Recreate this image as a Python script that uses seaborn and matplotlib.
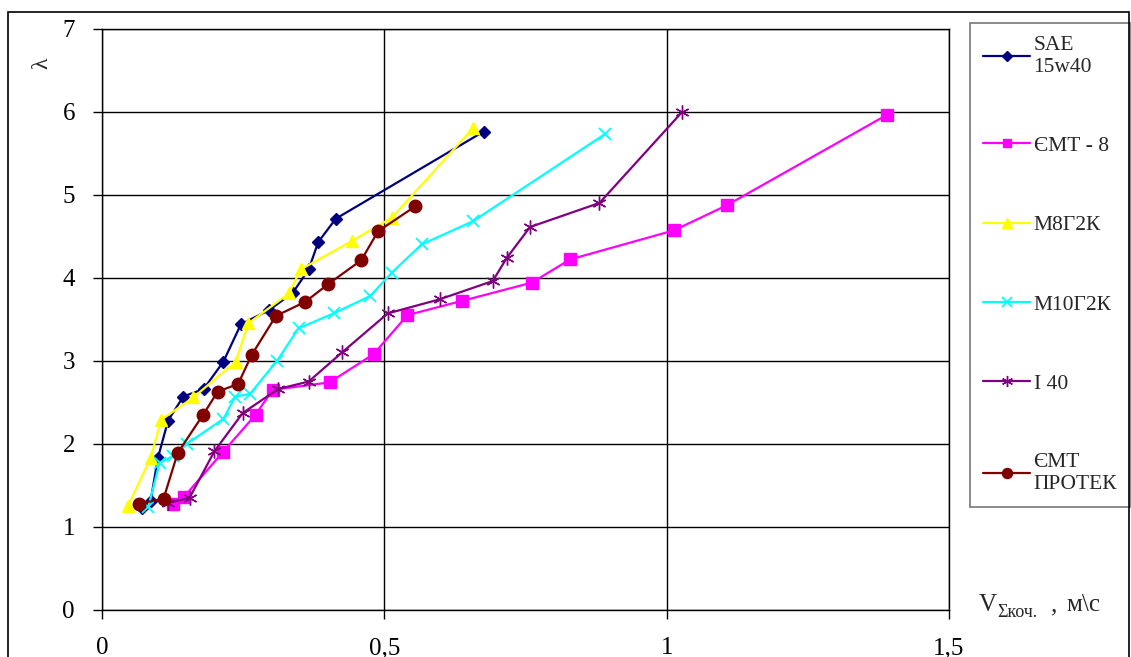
import numpy as np
import pandas as pd
import matplotlib
matplotlib.use('Agg')
import matplotlib.pyplot as plt
import seaborn as sns
from matplotlib.patches import Rectangle

# Values (lambda vs V, m/s)
sae_x = [0.070, 0.086, 0.099, 0.117, 0.144, 0.180, 0.215, 0.246, 0.296, 0.338, 0.366, 0.383, 0.414, 0.676]
sae_y = [1.23, 1.31, 1.83, 2.28, 2.57, 2.66, 2.99, 3.44, 3.61, 3.82, 4.10, 4.43, 4.71, 5.76]

emt8_x = [0.126, 0.145, 0.214, 0.272, 0.302, 0.403, 0.481, 0.541, 0.637, 0.761, 0.829, 1.013, 1.106, 1.390]
emt8_y = [1.27, 1.36, 1.90, 2.35, 2.65, 2.74, 3.08, 3.55, 3.72, 3.94, 4.22, 4.57, 4.87, 5.96]

m8_x = [0.046, 0.086, 0.105, 0.162, 0.237, 0.259, 0.331, 0.352, 0.442, 0.513, 0.657]
m8_y = [1.25, 1.83, 2.29, 2.56, 2.99, 3.45, 3.81, 4.10, 4.44, 4.72, 5.80]

m10_x = [0.082, 0.102, 0.125, 0.150, 0.215, 0.236, 0.262, 0.310, 0.348, 0.410, 0.475, 0.513, 0.566, 0.657, 0.891]
m10_y = [1.24, 1.77, 1.85, 2.00, 2.30, 2.57, 2.60, 3.00, 3.39, 3.57, 3.78, 4.06, 4.40, 4.68, 5.73]

i40_x = [0.117, 0.155, 0.199, 0.249, 0.312, 0.366, 0.425, 0.506, 0.598, 0.692, 0.717, 0.758, 0.881, 1.028]
i40_y = [1.29, 1.35, 1.91, 2.37, 2.66, 2.75, 3.10, 3.57, 3.74, 3.96, 4.24, 4.61, 4.90, 6.00]

protek_x = [0.066, 0.109, 0.134, 0.179, 0.205, 0.241, 0.265, 0.308, 0.360, 0.400, 0.459, 0.489, 0.555]
protek_y = [1.28, 1.34, 1.89, 2.35, 2.63, 2.72, 3.07, 3.54, 3.71, 3.92, 4.21, 4.56, 4.86]

labels = ['SAE\n15w40', 'ЄМТ - 8', 'М8Г2К', 'М10Г2К', 'І 40', 'ЄМТ\nПРОТЕК']
xticks = [0, 0.5, 1, 1.5]
xtick_labels = ['0', '0,5', '1', '1,5']

sns.set_style('white')
plt.rcParams['font.family'] = ['Liberation Serif', 'DejaVu Serif']

W, H = 1131, 657
fig = plt.figure(figsize=(W / 100, H / 100), dpi=100)
ax = fig.add_axes([102 / W, 1 - 610 / H, (949 - 102) / W, (610 - 28.5) / H])

styles = [
    (sae_x, sae_y, '#000080', 'D', 6, 1),
    (emt8_x, emt8_y, '#FF00FF', 's', 8, 1),
    (m8_x, m8_y, '#FFFF00', '^', 9, 1),
    (m10_x, m10_y, '#00FFFF', 'x', 9, 1.3),
    (i40_x, i40_y, '#800080', (6, 2, 0), 10, 1),
    (protek_x, protek_y, '#800000', 'o', 9, 1),
]

for (xs, ys, col, mk, ms, mew), lab in zip(styles, labels):
    df = pd.DataFrame({'v': xs, 'lam': ys})
    sns.lineplot(data=df, x='v', y='lam', sort=False, ax=ax, color=col,
                 linewidth=1.6, marker=mk, markersize=ms, markeredgewidth=mew,
                 markeredgecolor=col, markerfacecolor=col, label=lab)

ax.set_xlim(0, 1.5)
ax.set_ylim(0, 7)
ax.set_xticks(xticks)
ax.set_xticklabels(xtick_labels)
ax.set_yticks(range(0, 8))
ax.set_xlabel('')
ax.set_ylabel('')
ax.grid(True, color='black', linewidth=1)
ax.set_axisbelow(True)
for s in ax.spines.values():
    s.set_visible(True)
    s.set_color('black')
    s.set_linewidth(1)
ax.tick_params(direction='out', length=6.5, width=1, pad=13, labelsize=18,
               colors='black', bottom=True, left=True)

leg = ax.legend(loc='upper left', bbox_to_anchor=(970 / W, 1 - 23 / H),
                bbox_transform=fig.transFigure, fontsize=15.5, frameon=True,
                fancybox=False, edgecolor='#555555', borderaxespad=0,
                handlelength=2.2, handletextpad=0.15, labelspacing=2.75,
                borderpad=0.6, markerscale=0.8)
leg.get_frame().set_linewidth(1.2)

# axis titles
fig.text(42 / W, 1 - 63 / H, 'λ', rotation=90, fontsize=17, ha='center', va='center')
fig.text(979 / W, 1 - 611 / H, 'V', fontsize=18, ha='left', va='baseline')
fig.text(997 / W, 1 - 617 / H, 'Σкоч.', fontsize=13, ha='left', va='baseline')
fig.text(1051 / W, 1 - 611 / H, ',', fontsize=18, ha='left', va='baseline')
fig.text(1066 / W, 1 - 611 / H, 'м\\с', fontsize=18, ha='left', va='baseline')

# outer frame of the picture
fig.patches.append(Rectangle((8 / W, -0.02), (1129 - 8) / W, 1.02 - 12 / H,
                             transform=fig.transFigure, fill=False,
                             edgecolor='black', linewidth=1.2))

plt.savefig('out.png', dpi=100)
plt.close()
